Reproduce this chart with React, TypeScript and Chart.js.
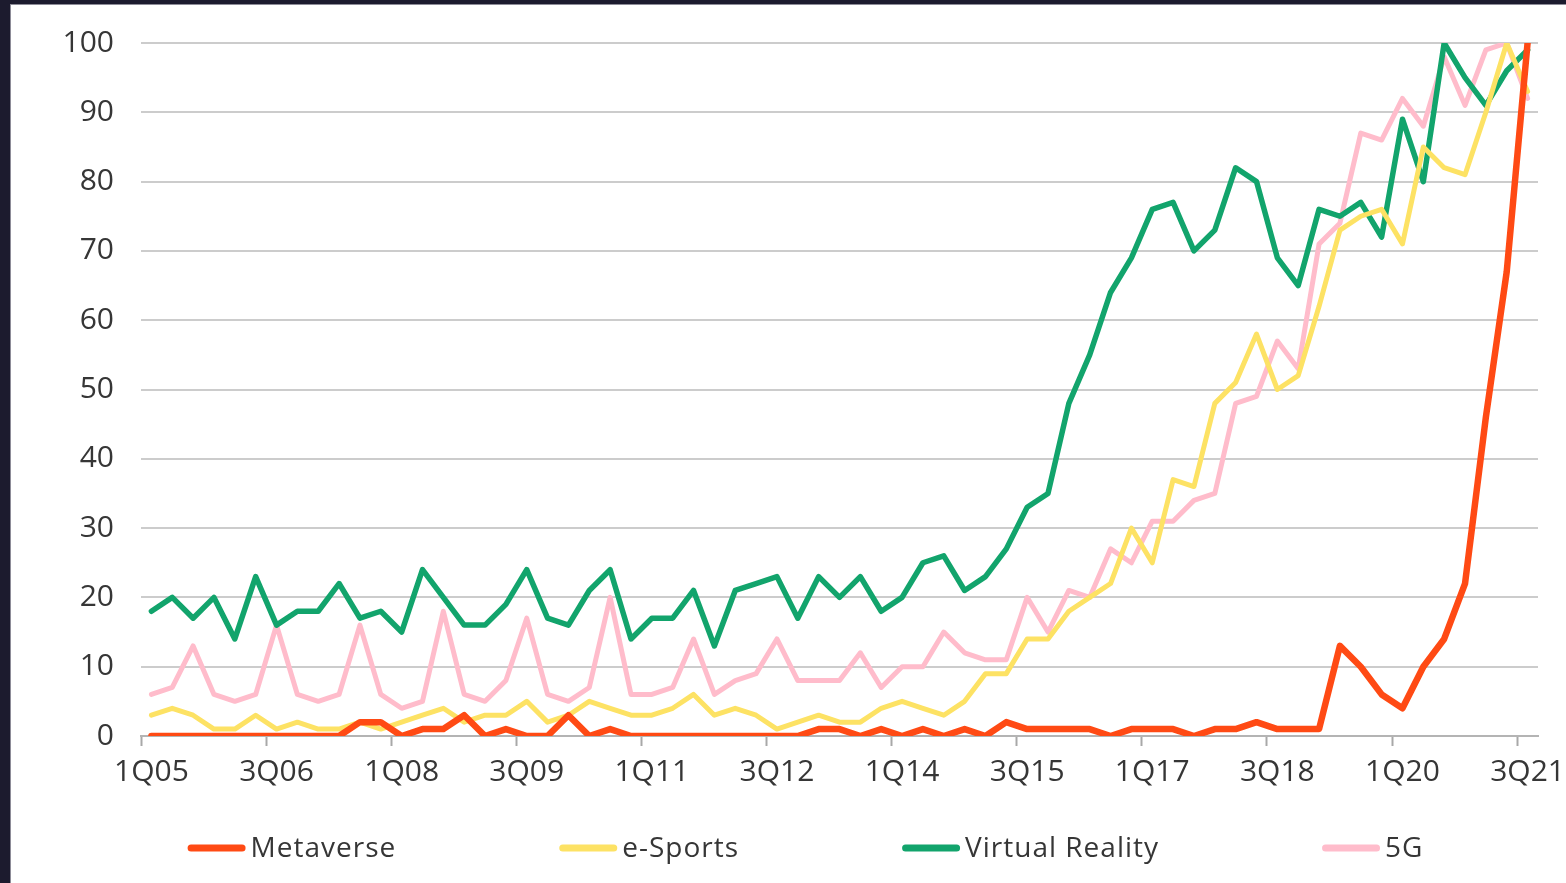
import React, { useEffect, useRef } from 'react';
import { Chart, registerables } from 'chart.js';

Chart.register(...registerables);

// ---- data ----
const quarters = [
  '1Q05', '2Q05', '3Q05', '4Q05', '1Q06', '2Q06', '3Q06', '4Q06',
  '1Q07', '2Q07', '3Q07', '4Q07', '1Q08', '2Q08', '3Q08', '4Q08',
  '1Q09', '2Q09', '3Q09', '4Q09', '1Q10', '2Q10', '3Q10', '4Q10',
  '1Q11', '2Q11', '3Q11', '4Q11', '1Q12', '2Q12', '3Q12', '4Q12',
  '1Q13', '2Q13', '3Q13', '4Q13', '1Q14', '2Q14', '3Q14', '4Q14',
  '1Q15', '2Q15', '3Q15', '4Q15', '1Q16', '2Q16', '3Q16', '4Q16',
  '1Q17', '2Q17', '3Q17', '4Q17', '1Q18', '2Q18', '3Q18', '4Q18',
  '1Q19', '2Q19', '3Q19', '4Q19', '1Q20', '2Q20', '3Q20', '4Q20',
  '1Q21', '2Q21', '3Q21',
];

const metaverse = [
  0, 0, 0, 0, 0, 0, 0, 0, 0, 0,
  2, 2, 0, 1, 1, 3, 0, 1, 0, 0,
  3, 0, 1, 0, 0, 0, 0, 0, 0, 0,
  0, 0, 1, 1, 0, 1, 0, 1, 0, 1,
  0, 2, 1, 1, 1, 1, 0, 1, 1, 1,
  0, 1, 1, 2, 1, 1, 1, 13, 10, 6,
  4, 10, 14, 22, 46, 67, 100,
];

const eSports = [
  3, 4, 3, 1, 1, 3, 1, 2, 1, 1,
  2, 1, 2, 3, 4, 2, 3, 3, 5, 2,
  3, 5, 4, 3, 3, 4, 6, 3, 4, 3,
  1, 2, 3, 2, 2, 4, 5, 4, 3, 5,
  9, 9, 14, 14, 18, 20, 22, 30, 25, 37,
  36, 48, 51, 58, 50, 52, 62, 73, 75, 76,
  71, 85, 82, 81, 90, 100, 93,
];

const virtualReality = [
  18, 20, 17, 20, 14, 23, 16, 18, 18, 22,
  17, 18, 15, 24, 20, 16, 16, 19, 24, 17,
  16, 21, 24, 14, 17, 17, 21, 13, 21, 22,
  23, 17, 23, 20, 23, 18, 20, 25, 26, 21,
  23, 27, 33, 35, 48, 55, 64, 69, 76, 77,
  70, 73, 82, 80, 69, 65, 76, 75, 77, 72,
  89, 80, 100, 95, 91, 96, 99,
];

const fiveG = [
  6, 7, 13, 6, 5, 6, 16, 6, 5, 6,
  16, 6, 4, 5, 18, 6, 5, 8, 17, 6,
  5, 7, 20, 6, 6, 7, 14, 6, 8, 9,
  14, 8, 8, 8, 12, 7, 10, 10, 15, 12,
  11, 11, 20, 15, 21, 20, 27, 25, 31, 31,
  34, 35, 48, 49, 57, 53, 71, 74, 87, 86,
  92, 88, 98, 91, 99, 100, 92,
];

const seriesNames = ['Metaverse', 'e-Sports', 'Virtual Reality', '5G'];
const yMin = 0;
const yMax = 100;
const yStep = 10;
const labelEvery = 6;

// ---- styles ----
const FRAME_BG = '#1c1b2e';
const TEXT = '#363636';
const FONT = '"Open Sans", "Noto Sans", sans-serif';
const COLORS = ['#ff4a14', '#fde264', '#12a46c', '#ffbccb'];
const WIDTHS = [6.5, 5, 5.5, 5];

const CANVAS_W = 1555;
const CANVAS_H = 878;

const legendPlugin = {
  id: 'bottomLegend',
  afterDraw(chart: any) {
    const { ctx, chartArea } = chart;
    ctx.save();
    ctx.font = `28px ${FONT}`;
    ctx.textBaseline = 'middle';
    ctx.textAlign = 'left';
    try {
      (ctx as any).letterSpacing = '1px';
    } catch (e) {
      /* ignore */
    }
    const sample = 58;
    const gap = 5;
    const spacing = 163;
    const items = chart.data.datasets.map((ds: any) => ({
      label: ds.label as string,
      color: ds.borderColor as string,
      w: sample + gap + ctx.measureText(ds.label).width,
    }));
    const total =
      items.reduce((s: number, it: any) => s + it.w, 0) + spacing * (items.length - 1);
    let x = (chartArea.left + chartArea.right) / 2 - 34 - total / 2;
    const y = 843;
    items.forEach((it: any) => {
      ctx.strokeStyle = it.color;
      ctx.lineWidth = 7;
      ctx.lineCap = 'round';
      ctx.beginPath();
      ctx.moveTo(x + 3.5, y);
      ctx.lineTo(x + sample - 3.5, y);
      ctx.stroke();
      ctx.fillStyle = TEXT;
      ctx.fillText(it.label, x + sample + gap, y + 1);
      x += it.w + spacing;
    });
    ctx.restore();
  },
};

export default function App() {
  const ref = useRef<HTMLCanvasElement>(null);

  useEffect(() => {
    if (!ref.current) return;
    const seriesData = [metaverse, eSports, virtualReality, fiveG];
    const chart = new Chart(ref.current, {
      type: 'line',
      data: {
        labels: quarters,
        datasets: seriesNames.map((name, i) => ({
          label: name,
          data: seriesData[i],
          borderColor: COLORS[i],
          backgroundColor: COLORS[i],
          borderWidth: WIDTHS[i],
          pointRadius: 0,
          pointHoverRadius: 0,
          tension: 0,
          fill: false,
          borderJoinStyle: 'round' as const,
          borderCapStyle: 'round' as const,
        })),
      },
      options: {
        responsive: false,
        devicePixelRatio: 1,
        animation: false,
        events: [],
        layout: {
          padding: { top: 38, right: 28, bottom: 77, left: 0 },
        },
        plugins: {
          legend: { display: false },
          tooltip: { enabled: false },
          title: { display: false },
        },
        scales: {
          x: {
            type: 'category',
            offset: true,
            afterFit: (scale: any) => {
              scale.height = 70;
              scale.paddingLeft = 0;
              scale.paddingRight = 0;
            },
            grid: {
              offset: true,
              drawOnChartArea: false,
              drawTicks: true,
              tickLength: 10,
              tickWidth: 2,
              tickColor: (ctx: any) =>
                ctx.index % labelEvery === 0 ? '#a8a8a8' : 'rgba(0,0,0,0)',
            },
            border: { display: true, color: '#b4b4b4', width: 2 },
            ticks: {
              autoSkip: false,
              maxRotation: 0,
              minRotation: 0,
              padding: 8,
              color: TEXT,
              font: { family: FONT, size: 30 },
              callback: (_v: any, idx: number) =>
                idx % labelEvery === 0 ? quarters[idx] : '',
            },
          },
          y: {
            min: yMin,
            max: yMax,
            afterFit: (scale: any) => {
              scale.width = 130;
              scale.paddingTop = 0;
              scale.paddingBottom = 0;
            },
            grid: {
              color: '#cccccc',
              lineWidth: 2,
              drawTicks: false,
            },
            border: { display: false },
            ticks: {
              stepSize: yStep,
              padding: 27,
              color: TEXT,
              font: { family: FONT, size: 30 },
            },
          },
        },
      },
      plugins: [legendPlugin],
    });
    return () => chart.destroy();
  }, []);

  return (
    <div
      style={{
        position: 'fixed',
        left: 0,
        top: 0,
        width: 1566,
        height: 883,
        background: FRAME_BG,
        overflow: 'hidden',
      }}
    >
      <div
        style={{
          position: 'absolute',
          left: 10,
          top: 4,
          width: CANVAS_W,
          height: CANVAS_H,
          background: '#ffffff',
          borderLeft: '1px solid #8d8c98',
          borderTop: '1px solid #8d8c98',
        }}
      >
        <canvas
          ref={ref}
          width={CANVAS_W}
          height={CANVAS_H}
          style={{ display: 'block', width: CANVAS_W, height: CANVAS_H }}
        />
      </div>
    </div>
  );
}
